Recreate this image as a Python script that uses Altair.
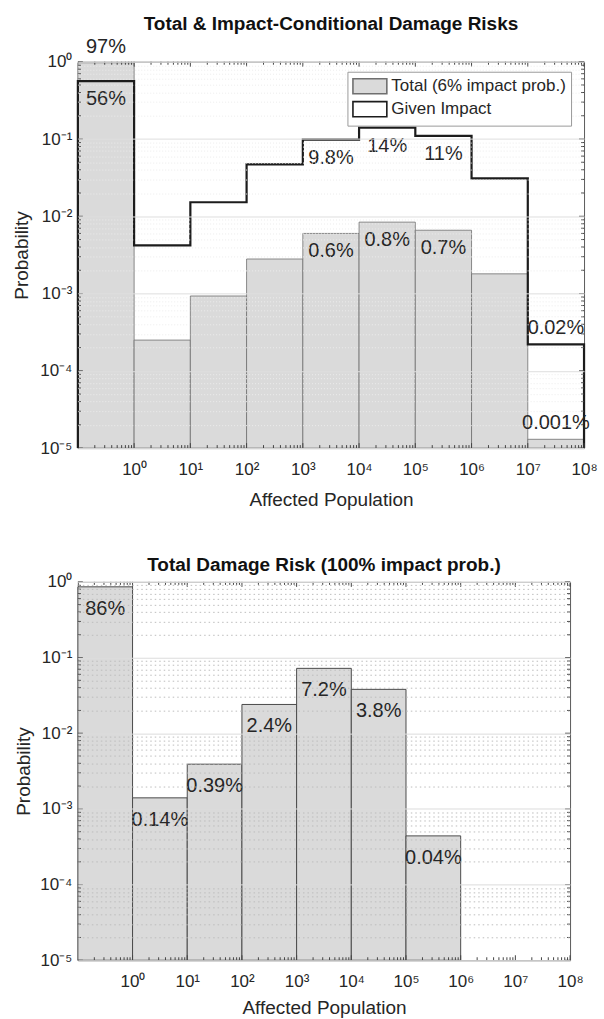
import altair as alt
import pandas as pd

FONT = "Liberation Sans"

# Affected-population bins (one decade each, first bin from 10^-1)
bin_lo = [1e-1, 1e0, 1e1, 1e2, 1e3, 1e4, 1e5, 1e6, 1e7]
bin_hi = [1e0, 1e1, 1e2, 1e3, 1e4, 1e5, 1e6, 1e7, 1e8]

# Upper panel: total risk (6% impact probability) and risk given an impact
total_prob = [0.97, 0.00025, 0.00093, 0.0028, 0.006, 0.0084, 0.0066, 0.0018, 0.000013]
given_prob = [0.56, 0.0042, 0.0152, 0.047, 0.098, 0.14, 0.11, 0.031, 0.00022]

top_label_bin = [0, 4, 5, 6, 8, 0, 4, 5, 6, 8]
top_label_series = ["total"] * 5 + ["given"] * 5
top_label_text = ["97%", "0.6%", "0.8%", "0.7%", "0.001%", "56%", "9.8%", "14%", "11%", "0.02%"]
top_label_side = ["above", "below", "below", "below", "above", "below", "below", "below", "below", "above"]

# Lower panel: total risk with 100% impact probability
full_prob = [0.86, 0.0014, 0.0039, 0.024, 0.072, 0.038, 0.00044, 0.0, 0.0]
full_text = ["86%", "0.14%", "0.39%", "2.4%", "7.2%", "3.8%", "0.04%", "", ""]

TOTAL_NAME = "Total (6% impact prob.)"
GIVEN_NAME = "Given Impact"

# Axis ticks and labels
Y_MIN, Y_MAX = 1e-5, 1e0
X_MIN, X_MAX = 1e-1, 1e8
y_major = [1e-5, 1e-4, 1e-3, 1e-2, 1e-1, 1e0]
y_major_labels = ["10⁻⁵", "10⁻⁴", "10⁻³", "10⁻²", "10⁻¹", "10⁰"]
x_major = [1e0, 1e1, 1e2, 1e3, 1e4, 1e5, 1e6, 1e7, 1e8]
x_major_labels = ["10⁰", "10¹", "10²", "10³", "10⁴", "10⁵", "10⁶", "10⁷", "10⁸"]
y_minor = [m * 10.0 ** e for e in range(-5, 0) for m in range(2, 10)]
x_minor = [m * 10.0 ** e for e in range(-1, 8) for m in range(2, 10)]

BAR_FILL = "#dadada"
BAR_EDGE = "#6f6f6f"
STEP_COLOR = "#1c1c1c"
TEXT_COLOR = "#262626"
TICK_COLOR = "#444444"


def label_expr(values, labels):
    expr = "''"
    for v, lab in zip(values, labels):
        expr = f"datum.value == {v!r} ? '{lab}' : ({expr})"
    return expr


major_test = "indexof([" + ",".join(repr(v) for v in y_major) + "], datum.value) >= 0"

xscale = alt.Scale(type="log", domain=[X_MIN, X_MAX], nice=False)
yscale = alt.Scale(type="log", domain=[Y_MIN, Y_MAX], nice=False)


def x_axis(label_pad, title_pad):
    return alt.Axis(values=x_major, labelExpr=label_expr(x_major, x_major_labels),
                    title="Affected Population", grid=False, ticks=False, domain=False,
                    labelFontSize=17, titleFontSize=19, titleFontWeight="normal",
                    labelPadding=label_pad, titlePadding=title_pad, labelFlush=False)


def y_axis(minor_color, major_color, minor_dash, title_pad):
    return alt.Axis(values=y_major + y_minor, labelExpr=label_expr(y_major, y_major_labels),
                    title="Probability", grid=True, ticks=False, domain=False,
                    gridColor={"condition": {"test": major_test, "value": major_color},
                               "value": minor_color},
                    gridDash={"condition": {"test": major_test, "value": []},
                              "value": minor_dash},
                    labelFontSize=17, titleFontSize=19, titleFontWeight="normal",
                    labelPadding=6, titlePadding=title_pad, zindex=1)


def inner_ticks(width, height, xa, ya):
    """Short tick marks pointing into the plot box on all four sides."""
    layers = []
    for vals, size in ((x_major, 5), (x_minor, 3)):
        df = pd.DataFrame({"v": vals})
        for y0, y1 in ((height, height - size), (0, size)):
            layers.append(alt.Chart(df).mark_rule(color=TICK_COLOR, strokeWidth=1).encode(
                x=alt.X("v:Q", scale=xscale, axis=xa), y=alt.value(y0), y2=alt.value(y1)))
    for vals, size in ((y_major, 5), (y_minor, 3)):
        df = pd.DataFrame({"v": vals})
        for x0, x1 in ((0, size), (width, width - size)):
            layers.append(alt.Chart(df).mark_rule(color=TICK_COLOR, strokeWidth=1).encode(
                y=alt.Y("v:Q", scale=yscale, axis=ya), x=alt.value(x0), x2=alt.value(x1)))
    return layers


mid = [(lo * hi) ** 0.5 for lo, hi in zip(bin_lo, bin_hi)]

# ---------- upper panel ----------
TOP_W, TOP_H = 507, 387

top_bars = pd.DataFrame({"lo": bin_lo, "hi": bin_hi, "p": total_prob, "series": TOTAL_NAME})

step_x = [X_MIN] + bin_lo + [X_MAX, X_MAX]
step_p = [Y_MIN] + given_prob + [given_prob[-1], Y_MIN]
top_step = pd.DataFrame({"x": step_x, "p": step_p, "order": list(range(len(step_x))),
                         "series": GIVEN_NAME})

top_labels = pd.DataFrame({
    "x": [mid[b] for b in top_label_bin],
    "p": [total_prob[b] if s == "total" else given_prob[b]
          for b, s in zip(top_label_bin, top_label_series)],
    "text": top_label_text,
    "side": top_label_side,
})

legend = alt.Legend(title=None, orient="none", legendX=270, legendY=10,
                    symbolType="M-1.96,-0.87H1.96V0.87H-1.96Z", symbolSize=300,
                    symbolStrokeWidth=1.6, symbolOffset=8, labelOffset=12,
                    labelFontSize=17, labelColor=TEXT_COLOR, labelFont=FONT, labelLimit=400,
                    rowPadding=0, padding=5, strokeColor="#9a9a9a", fillColor="white",
                    cornerRadius=0)

series_domain = [TOTAL_NAME, GIVEN_NAME]
xa_top = x_axis(13, 13)
ya_top = y_axis("#ececec", "#dedede", [1, 2], 8)

bars_t = alt.Chart(top_bars).mark_bar(stroke=BAR_EDGE, strokeWidth=0.8).encode(
    x=alt.X("lo:Q", scale=xscale, axis=xa_top),
    x2="hi:Q",
    y=alt.Y("p:Q", scale=yscale, axis=ya_top),
    y2=alt.datum(Y_MIN),
    fill=alt.Fill("series:N", scale=alt.Scale(domain=series_domain, range=[BAR_FILL, "white"]),
                  legend=legend),
)

step_t = alt.Chart(top_step).mark_line(interpolate="step-after", strokeWidth=2.2).encode(
    x=alt.X("x:Q", scale=xscale, axis=xa_top),
    y=alt.Y("p:Q", scale=yscale, axis=ya_top),
    order="order:Q",
    stroke=alt.Stroke("series:N", scale=alt.Scale(domain=series_domain, range=[BAR_EDGE, STEP_COLOR]),
                      legend=legend),
)


def text_layer(df, dy):
    return alt.Chart(df).mark_text(align="center", baseline="middle", dy=dy, fontSize=20,
                                   color=TEXT_COLOR, font=FONT).encode(
        x=alt.X("x:Q", scale=xscale, axis=xa_top),
        y=alt.Y("p:Q", scale=yscale, axis=ya_top),
        text="text:N",
    )


above_t = text_layer(top_labels[top_labels.side == "above"], -16)
below_t = text_layer(top_labels[top_labels.side == "below"], 18)

top = alt.layer(bars_t, step_t, *inner_ticks(TOP_W, TOP_H, xa_top, ya_top),
                above_t, below_t).properties(
    width=TOP_W, height=TOP_H,
    title=alt.TitleParams("Total & Impact-Conditional Damage Risks", frame="group", offset=3),
)

# ---------- lower panel ----------
LOW_W, LOW_H = 493, 379

low_df = pd.DataFrame({"lo": bin_lo, "hi": bin_hi, "x": mid, "p": full_prob, "text": full_text})
low_df = low_df[low_df.p > 0]

xa_low = x_axis(13, 9)
ya_low = y_axis("#bdbdbd", "#dcdcdc", [1.5, 3], 6)

bars_b = alt.Chart(low_df).mark_bar(fill=BAR_FILL, stroke="#4a4a4a", strokeWidth=1).encode(
    x=alt.X("lo:Q", scale=xscale, axis=xa_low),
    x2="hi:Q",
    y=alt.Y("p:Q", scale=yscale, axis=ya_low),
    y2=alt.datum(Y_MIN),
)

text_b = alt.Chart(low_df).mark_text(align="center", baseline="middle", dy=22, fontSize=20,
                                     color=TEXT_COLOR, font=FONT).encode(
    x=alt.X("x:Q", scale=xscale, axis=xa_low),
    y=alt.Y("p:Q", scale=yscale, axis=ya_low),
    text="text:N",
)

bottom = alt.layer(bars_b, *inner_ticks(LOW_W, LOW_H, xa_low, ya_low), text_b).properties(
    width=LOW_W, height=LOW_H,
    title=alt.TitleParams("Total Damage Risk (100% impact prob.)", frame="group", offset=-2),
)

chart = alt.vconcat(top, bottom, spacing=45).properties(
    padding={"left": 12, "top": 13, "right": 6, "bottom": 0},
    background="white",
).configure_view(
    stroke="#5a5a5a", strokeWidth=1,
).configure_axis(
    labelFont=FONT, titleFont=FONT, labelColor=TEXT_COLOR, titleColor=TEXT_COLOR,
).configure_title(
    font=FONT, fontSize=19, fontWeight="bold", color="#111111", anchor="middle",
)

chart.save("out.html", embed_options={"renderer": "svg", "actions": False})
